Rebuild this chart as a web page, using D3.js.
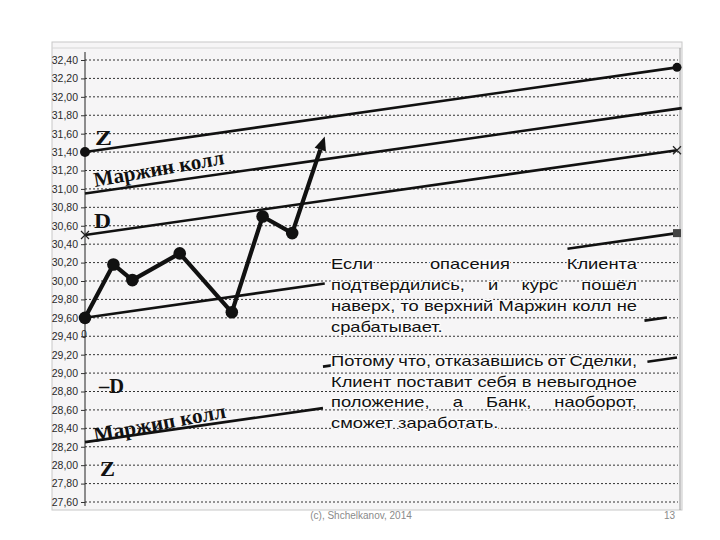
<!DOCTYPE html>
<html><head><meta charset="utf-8">
<script src="https://cdn.jsdelivr.net/npm/d3@7/dist/d3.min.js"></script>
<style>
html,body{margin:0;padding:0;background:#fff;}
svg{display:block;}
</style></head>
<body>
<svg id="chart" width="720" height="540"></svg>
<script>
// ---------- DATA ----------
const yTickValues = [27.6, 27.8, 28.0, 28.2, 28.4, 28.6, 28.8, 29.0, 29.2, 29.4, 29.6, 29.8, 30.0,
                     30.2, 30.4, 30.6, 30.8, 31.0, 31.2, 31.4, 31.6, 31.8, 32.0, 32.2, 32.4];
// price path (time in % of horizon, rate)
const pathTime = [0, 4.8, 8, 16, 24.8, 30, 35];
const pathRate = [29.60, 30.18, 30.01, 30.30, 29.66, 30.70, 30.52];
const arrowTime = 40.5;
const arrowRate = 31.57;
// channel lines
const lineNames  = ["Z", "Маржин колл", "D", "Курс", "-D", "Маржип колл"];
const lineStart  = [31.40, 30.95, 30.50, 29.60, 28.70, 28.25];
const lineEnd    = [32.32, 31.87, 31.42, 30.52, 29.62, 29.17];
// text of the note
const para1 = ["Если опасения Клиента", "подтвердились, и курс пошёл", "наверх, то верхний Маржин колл не", "срабатывает."];
const para2 = ["Потому что, отказавшись от Сделки,", "Клиент поставит себя в невыгодное", "положение, а Банк, наоборот,", "сможет заработать."];
const footerText = "(c), Shchelkanov, 2014";
const pageNumber = "13";

// ---------- LAYOUT ----------
const svg = d3.select("#chart");
const x = d3.scaleLinear().domain([0, 100]).range([85, 677]);
const y = d3.scaleLinear().domain([27.6, 32.4]).range([502, 60]);

// visible pieces of each line (time ranges) – the note box hides parts of the lower lines
const visible = [
  [[0, 100]],
  [[0, 100.8]],
  [[0, 100]],
  [[0, 40.5], [81.5, 100]],
  [[40.2, 42.3], [94.5, 98.3]],
  [[0, 40.2], [95, 100]]
];

// frame / background
svg.append("rect").attr("x", 52).attr("y", 42).attr("width", 630).attr("height", 468)
  .attr("fill", "#f6f5f6").attr("stroke", "#c8c8c8").attr("stroke-width", 1);
svg.append("line").attr("x1", 52).attr("x2", 682).attr("y1", 48).attr("y2", 48)
  .attr("stroke", "#d6d6d6").attr("stroke-width", 1);
svg.append("line").attr("x1", 680).attr("x2", 680).attr("y1", 48).attr("y2", 510)
  .attr("stroke", "#9a9a9a").attr("stroke-width", 1);

// gridlines
svg.append("g").selectAll("line").data(yTickValues).join("line")
  .attr("x1", x(0)).attr("x2", 678)
  .attr("y1", d => y(d)).attr("y2", d => y(d))
  .attr("stroke", "#333").attr("stroke-width", 1).attr("stroke-dasharray", "2,2");

// y axis
const yAxis = d3.axisLeft(y).tickValues(yTickValues).tickSize(4).tickPadding(3)
  .tickFormat(d => d.toFixed(2).replace(".", ","));
const gy = svg.append("g").attr("transform", `translate(${x(0)},0)`).call(yAxis);
gy.select(".domain").attr("stroke", "#222").attr("d", `M-0,${y(32.4) - 8}V${y(27.6) + 4}`);
gy.selectAll(".tick line").attr("stroke", "#333");
gy.selectAll(".tick text").attr("font-family", "Arial, 'Liberation Sans', sans-serif")
  .attr("font-size", 10.5).attr("fill", "#2a2a2a");

// channel lines
const gl = svg.append("g");
lineNames.forEach((name, i) => {
  const rate = t => lineStart[i] + (lineEnd[i] - lineStart[i]) * t / 100;
  visible[i].forEach(([a, b]) => {
    gl.append("line")
      .attr("x1", x(a)).attr("y1", y(rate(a)))
      .attr("x2", x(b)).attr("y2", y(rate(b)))
      .attr("stroke", "#111").attr("stroke-width", 2.6).attr("stroke-linecap", "butt");
  });
});

// line end markers
const gm = svg.append("g");
gm.append("circle").attr("cx", x(0)).attr("cy", y(lineStart[0])).attr("r", 5).attr("fill", "#111");
gm.append("circle").attr("cx", x(100)).attr("cy", y(lineEnd[0])).attr("r", 4.5).attr("fill", "#111");
[[0, lineStart[2]], [100, lineEnd[2]]].forEach(([t, r]) => {
  const cx = x(t), cy = y(r), s = 4;
  gm.append("path").attr("d", `M${cx - s},${cy - s}L${cx + s},${cy + s}M${cx - s},${cy + s}L${cx + s},${cy - s}`)
    .attr("stroke", "#222").attr("stroke-width", 1.2);
});
gm.append("rect").attr("x", x(100) - 4).attr("y", y(lineEnd[3]) - 4).attr("width", 8).attr("height", 8)
  .attr("fill", "#444");

// price path
const pts = pathTime.map((t, i) => [x(t), y(pathRate[i])]);
const tip = [x(arrowTime), y(arrowRate)];
const last = pts[pts.length - 1];
const ang = Math.atan2(tip[1] - last[1], tip[0] - last[0]);
const aLen = 14, aW = 6;
const base = [tip[0] - aLen * Math.cos(ang), tip[1] - aLen * Math.sin(ang)];
svg.append("path").attr("d", d3.line()([...pts, base]))
  .attr("fill", "none").attr("stroke", "#111").attr("stroke-width", 4.2).attr("stroke-linejoin", "round");
svg.append("path").attr("d", d3.line()([
    tip,
    [base[0] + aW * Math.sin(ang), base[1] - aW * Math.cos(ang)],
    [base[0] - aW * Math.sin(ang), base[1] + aW * Math.cos(ang)]
  ]) + "Z").attr("fill", "#111");
svg.append("g").selectAll("circle").data(pts).join("circle")
  .attr("cx", d => d[0]).attr("cy", d => d[1]).attr("r", 6.3).attr("fill", "#111");
svg.append("text").attr("x", x(0) - 1).attr("y", y(pathRate[0]) + 20).text("0")
  .attr("font-family", "Arial, sans-serif").attr("font-size", 10).attr("fill", "#222").attr("text-anchor", "middle");

// line labels (serif, bold)
const serif = "'Liberation Serif', 'Times New Roman', serif";
const labels = [
  {t: lineNames[0], x: 95, y: 145, rot: 0, w: 17, fs: 22},
  {t: lineNames[1], x: 95, y: 187, rot: -10, w: 132, fs: 21},
  {t: lineNames[2], x: 94, y: 228, rot: 0, w: 17, fs: 22},
  {t: "–D", x: 99, y: 393, rot: 0, w: 25, fs: 22},
  {t: lineNames[5], x: 95, y: 442, rot: -10.5, w: 134, fs: 21},
  {t: lineNames[0], x: 100, y: 476, rot: 0, w: 15, fs: 21}
];
labels.forEach(l => {
  svg.append("text").attr("transform", `translate(${l.x},${l.y}) rotate(${l.rot})`)
    .text(l.t).attr("font-family", serif).attr("font-weight", "bold").attr("font-size", l.fs).attr("fill", "#111")
    .attr("textLength", l.w).attr("lengthAdjust", "spacingAndGlyphs");
});

// note text, justified
const boxL = 331, boxR = 637, boxW = boxR - boxL;
const baselines = [269, 290, 310.5, 331.5, 365.5, 386.5, 407, 427.5];
const sans = "Arial, 'Liberation Sans', sans-serif";
const fs = 14.5;
const meas = svg.append("text").attr("font-family", sans).attr("font-size", fs).attr("visibility", "hidden");
const wWidth = s => { meas.text(s); return meas.node().getComputedTextLength(); };
const spaceW = wWidth("a a") - wWidth("aa");
const refW = wWidth(para2[1]);
const sx = Math.max(0.9, Math.min(1.3, boxW / refW));
const allLines = [];
[para1, para2].forEach(p => p.forEach((s, i) => allLines.push({s, justify: i < p.length - 1})));
allLines.forEach((ln, i) => {
  const g = svg.append("g").attr("transform", `translate(${boxL},${baselines[i]}) scale(${sx},1)`);
  const words = ln.s.split(" ");
  const ws = words.map(wWidth);
  const total = d3.sum(ws);
  const avail = boxW / sx;
  let gap = spaceW;
  if (ln.justify && words.length > 1) gap = (avail - total) / (words.length - 1);
  let cx = 0;
  words.forEach((w, k) => {
    g.append("text").attr("x", cx).attr("y", 0).text(w)
      .attr("font-family", sans).attr("font-size", fs).attr("fill", "#111")
      .attr("stroke", "#fbfbfb").attr("stroke-width", 2.5).attr("paint-order", "stroke");
    cx += ws[k] + gap;
  });
});
meas.remove();

// footer
svg.append("text").attr("x", 361).attr("y", 519).attr("text-anchor", "middle").text(footerText)
  .attr("font-family", sans).attr("font-size", 10).attr("fill", "#8a8a8a");
svg.append("text").attr("x", 675).attr("y", 519).attr("text-anchor", "end").text(pageNumber)
  .attr("font-family", sans).attr("font-size", 10).attr("fill", "#8a8a8a");
</script>
</body></html>
